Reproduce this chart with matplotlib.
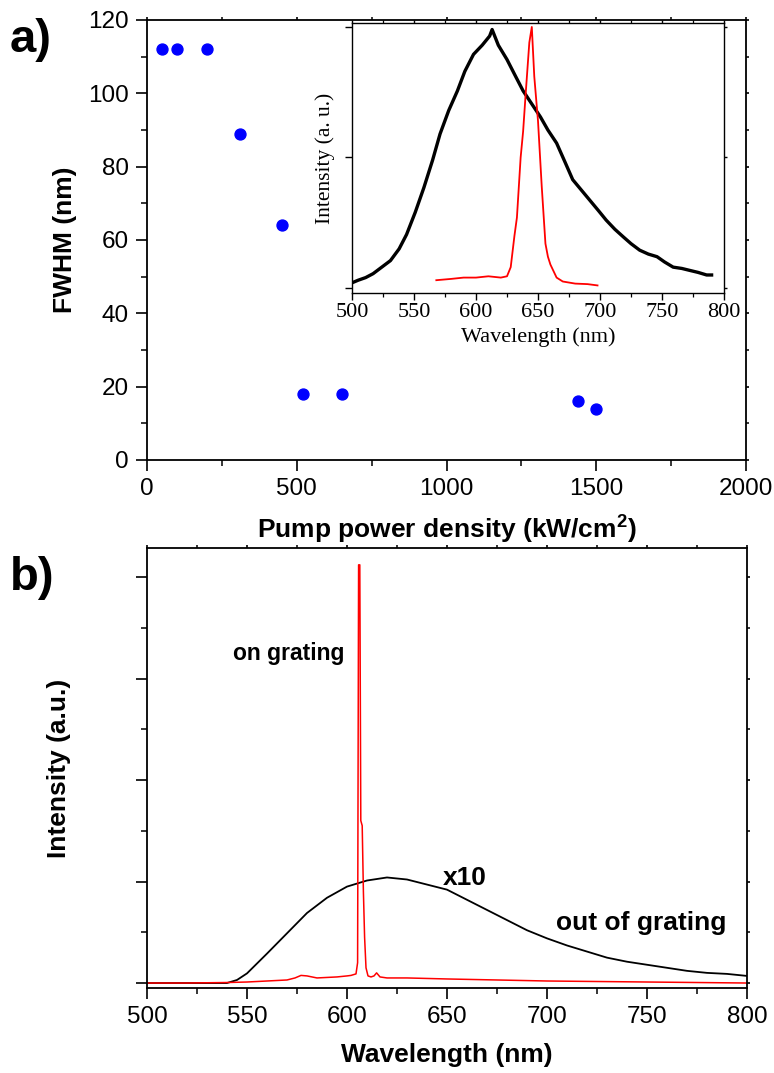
import matplotlib
matplotlib.use("Agg")
import matplotlib.pyplot as plt
from matplotlib.ticker import MultipleLocator, NullFormatter

# ---------------- data ----------------
# panel a) FWHM vs pump power density
pump = [50, 100, 200, 310, 450, 520, 650, 1440, 1500]
fwhm = [112, 112, 112, 89, 64, 18, 18, 16, 14]

# inset: spectra (normalised)
inset_black_wl = [500, 505, 511, 517, 524, 531, 538, 544, 551, 558, 565, 571, 578, 585, 591,
                  598, 605, 611, 613, 618, 625, 632, 638, 645, 652, 658, 665, 672, 678, 685,
                  692, 699, 705, 712, 719, 725, 732, 739, 746, 752, 759, 766, 772, 779, 786, 790]
inset_black_I = [0.02, 0.03, 0.04, 0.055, 0.08, 0.105, 0.15, 0.205, 0.29, 0.385, 0.49, 0.59, 0.68,
                 0.755, 0.83, 0.895, 0.93, 0.965, 0.99, 0.93, 0.875, 0.81, 0.755, 0.705, 0.655,
                 0.605, 0.555, 0.48, 0.415, 0.375, 0.335, 0.295, 0.26, 0.225, 0.195, 0.17, 0.145,
                 0.13, 0.12, 0.1, 0.08, 0.075, 0.068, 0.06, 0.05, 0.05]
inset_red_wl = [568, 580, 590, 600, 610, 620, 625, 628, 631, 633, 636, 638, 640, 643, 645,
                647, 650, 653, 656, 658, 660, 665, 670, 680, 690, 698]
inset_red_I = [0.03, 0.035, 0.04, 0.04, 0.045, 0.04, 0.045, 0.08, 0.2, 0.27, 0.5, 0.6, 0.74,
               0.94, 1.0, 0.81, 0.64, 0.39, 0.17, 0.12, 0.09, 0.04, 0.025, 0.017, 0.015, 0.01]

# panel b) spectra
b_black_wl = [500, 510, 520, 530, 540, 545, 550, 560, 570, 580, 590, 600, 610, 620, 630, 640,
              650, 660, 670, 680, 690, 700, 710, 720, 730, 740, 750, 760, 770, 780, 790, 800]
b_black_I = [0.0, 0.0, 0.0, 0.0, 0.0, 0.03, 0.095, 0.29, 0.49, 0.69, 0.84, 0.95, 1.01, 1.04,
             1.02, 0.97, 0.92, 0.82, 0.72, 0.62, 0.52, 0.44, 0.37, 0.31, 0.25, 0.21, 0.18,
             0.15, 0.12, 0.10, 0.09, 0.07]
b_red_wl = [500, 520, 540, 550, 560, 570, 574, 577, 580, 585, 590, 595, 600, 602, 604.5,
            605.3, 605.8, 606.4, 606.9, 607.6, 608.2, 608.8, 609.5, 610.5, 612, 613.5, 614.8,
            616.5, 620, 630, 650, 700, 750, 800]
b_red_I = [0.0, 0.0, 0.005, 0.01, 0.02, 0.03, 0.05, 0.075, 0.07, 0.05, 0.055, 0.06, 0.07, 0.075,
           0.09, 0.2, 4.12, 4.12, 1.6, 1.55, 0.9, 0.45, 0.15, 0.07, 0.06, 0.07, 0.1,
           0.06, 0.05, 0.05, 0.04, 0.02, 0.01, 0.0]

# ---------------- figure ----------------
W, H = 774, 1073
fig = plt.figure(figsize=(W / 100, H / 100), dpi=100)
sans = ['Liberation Sans', 'DejaVu Sans']
serif = ['Liberation Serif', 'DejaVu Serif']
plt.rcParams['mathtext.fontset'] = 'custom'
plt.rcParams['mathtext.bf'] = 'Liberation Sans:bold'


def box(l, t, r, b):
    return [l / W, 1 - b / H, (r - l) / W, (b - t) / H]


def style_main(ax):
    for s in ax.spines.values():
        s.set_linewidth(1.3)
    ax.tick_params(which='major', direction='out', length=8, width=1.2,
                   labelsize=17.5, left=True, bottom=True, pad=5)
    ax.tick_params(which='minor', direction='out', length=4.5, width=1.1)
    # small ticks on top and right spines
    ax.tick_params(axis='x', which='both', top=True, labeltop=False)
    ax.tick_params(axis='y', which='both', right=True, labelright=False)
    for t in ax.xaxis.get_major_ticks() + ax.xaxis.get_minor_ticks():
        t.tick2line.set_markersize(2.5)
    for t in ax.yaxis.get_major_ticks() + ax.yaxis.get_minor_ticks():
        t.tick2line.set_markersize(2.5)
    for lab in ax.get_xticklabels() + ax.get_yticklabels():
        lab.set_family(sans)


# ---- panel a ----
axa = fig.add_axes(box(147, 20, 746, 460))
axa.scatter(pump, fwhm, s=62, color='#0000ff', zorder=3, clip_on=False)
axa.set_xlim(0, 2000)
axa.set_ylim(0, 120)
axa.xaxis.set_major_locator(MultipleLocator(500))
axa.xaxis.set_minor_locator(MultipleLocator(250))
axa.yaxis.set_major_locator(MultipleLocator(20))
axa.yaxis.set_minor_locator(MultipleLocator(10))
style_main(axa)
axa.set_xlabel('Pump power density (kW/cm$^{\\mathbf{2}}$)', fontsize=19, fontweight='bold',
               family=sans, labelpad=9)
axa.set_ylabel('FWHM (nm)', fontsize=19, fontweight='bold', family=sans, labelpad=8)

# inset
axi = fig.add_axes(box(352, 23, 724, 293))
axi.plot(inset_black_wl, inset_black_I, color='black', lw=2.4)
axi.plot(inset_red_wl, inset_red_I, color='red', lw=1.3)
axi.set_xlim(500, 800)
axi.set_ylim(-0.019, 1.015)
axi.xaxis.set_major_locator(MultipleLocator(50))
axi.xaxis.set_minor_locator(MultipleLocator(25))
axi.set_yticks([0, 0.5, 1.0])
axi.yaxis.set_major_formatter(NullFormatter())
for s in axi.spines.values():
    s.set_linewidth(1.0)
axi.tick_params(which='major', direction='out', length=5, width=1.0, labelsize=16,
                top=True, right=True, pad=2)
axi.tick_params(which='minor', direction='out', length=3, width=0.9, top=True)
for t in axi.xaxis.get_major_ticks() + axi.xaxis.get_minor_ticks() + axi.yaxis.get_major_ticks():
    t.tick2line.set_markersize(2.5)
for lab in axi.get_xticklabels():
    lab.set_family(serif)
axi.set_xlabel('Wavelength (nm)', fontsize=16, family=serif, labelpad=4)
axi.set_ylabel('Intensity (a. u.)', fontsize=15.5, family=serif, labelpad=5)

# ---- panel b ----
axb = fig.add_axes(box(147, 548, 747, 988))
axb.plot(b_black_wl, b_black_I, color='black', lw=1.3)
axb.plot(b_red_wl, b_red_I, color='red', lw=1.1)
axb.set_xlim(500, 800)
axb.set_ylim(-0.049, 4.286)
axb.xaxis.set_major_locator(MultipleLocator(50))
axb.xaxis.set_minor_locator(MultipleLocator(25))
axb.yaxis.set_major_locator(MultipleLocator(1))
axb.yaxis.set_minor_locator(MultipleLocator(0.5))
axb.yaxis.set_major_formatter(NullFormatter())
style_main(axb)
axb.set_xlabel('Wavelength (nm)', fontsize=19, fontweight='bold', family=sans, labelpad=11)
axb.set_ylabel('Intensity (a.u.)', fontsize=19, fontweight='bold', family=sans, labelpad=42)

axb.text(571, 3.25, 'on grating', fontsize=16.5, fontweight='bold', family=sans,
         ha='center', va='center')
axb.text(659, 1.03, 'x10', fontsize=19, fontweight='bold', family=sans,
         ha='center', va='center')
axb.text(747, 0.59, 'out of grating', fontsize=19, fontweight='bold', family=sans,
         ha='center', va='center')

# panel letters
fig.text(10 / W, 1 - 40 / H, 'a)', fontsize=34, fontweight='bold', family=sans,
         ha='left', va='center')
fig.text(10 / W, 1 - 578 / H, 'b)', fontsize=34, fontweight='bold', family=sans,
         ha='left', va='center')

fig.savefig('out.png', dpi=100)
